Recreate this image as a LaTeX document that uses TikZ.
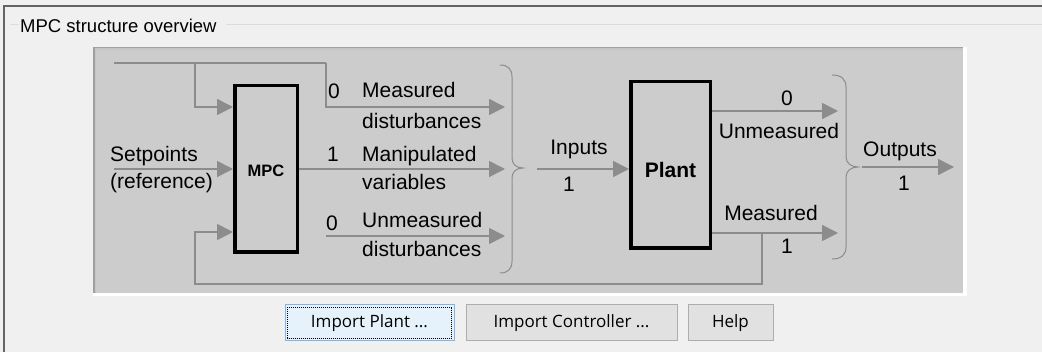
\documentclass[tikz,border=0pt]{standalone}
\usepackage{fontspec}
\setmainfont{Liberation Sans}
\newfontfamily\uifont{Open Sans}
\usetikzlibrary{arrows.meta}

\definecolor{formgray}{HTML}{F0F0F0}
\definecolor{framegray}{HTML}{646464}
\definecolor{groupgray}{HTML}{DCDCDC}
\definecolor{panelgray}{HTML}{CCCCCC}
\definecolor{bevelgray}{HTML}{A0A0A0}
\definecolor{wiregray}{HTML}{8C8C8C}
\definecolor{btnfill}{HTML}{E1E1E1}
\definecolor{btnline}{HTML}{ADADAD}
\definecolor{focusfill}{HTML}{E5F1FB}
\definecolor{focusline}{HTML}{7EB4EA}

\tikzset{
    wire/.style={draw=wiregray, line width=1.6pt},
    sig/.style={wire, -{Triangle[length=16pt,width=16pt]}},
    brace/.style={draw=wiregray, line width=1pt},
    block/.style={draw=black, line width=3.5pt, fill=panelgray, inner sep=0pt},
    lbl/.style={font=\fontsize{21}{21}\selectfont, inner sep=0pt, text=black},
    button/.style={draw=btnline, fill=btnfill, line width=1pt, minimum height=36pt,
        inner sep=0pt, font=\uifont\fontsize{17}{17}\selectfont}
}

\begin{document}
\begin{tikzpicture}[x=1pt,y=-1pt]
    \useasboundingbox (0,0) rectangle (1042,352);

    % Window and group box
    \fill[formgray] (0,0) rectangle (1042,352);
    \draw[framegray, line width=2pt] (4,352) -- (4,6) -- (1042,6);
    \draw[groupgray, line width=1pt] (10,25) -- (19,25);
    \draw[groupgray, line width=1pt] (226,25) -- (1042,25);
    \node[anchor=base west, inner sep=0pt, font=\fontsize{18.5}{18.5}\selectfont] (title) at (20,33) {MPC structure overview};

    % Diagram panel
    \fill[white] (93,47) rectangle (967,296);
    \fill[bevelgray] (93,47) rectangle (963,293);
    \fill[panelgray!85!bevelgray] (94.5,48.5) rectangle (963,293);
    \fill[panelgray] (96,50) rectangle (963,293);

    % Blocks
    \node[block, minimum width=62.5pt, minimum height=166.5pt, text height=16pt,
        font=\bfseries\fontsize{16.5}{16.5}\selectfont] (mpc) at (266,169) {MPC};
    \node[block, minimum width=79.5pt, minimum height=166.5pt, text height=26pt,
        font=\bfseries\fontsize{21}{21}\selectfont] (plant) at (670.5,165) {Plant};

    % Points on the wires
    \coordinate (tl) at (114,63);
    \coordinate (j1) at (195,63);
    \coordinate (j2) at (326,63);
    \coordinate (sp) at (114,169);
    \coordinate (ud) at (326,236);
    \coordinate (b1a) at (505,107);
    \coordinate (b1b) at (505,169);
    \coordinate (b1c) at (505,236);
    \coordinate (inp) at (537,169);
    \coordinate (yu) at (838,111);
    \coordinate (ym) at (838,233);
    \coordinate (fb) at (762,233);
    \coordinate (fbc) at (195,284);
    \coordinate (outs) at (862,167);
    \coordinate (oute) at (954,167);

    % Wires
    \draw[wire] (tl) -- (j2);
    \draw[sig] (j1) |- ([yshift=62pt]mpc.west);
    \draw[sig] (j2) |- (b1a);
    \draw[sig] (sp) -- (mpc.west);
    \draw[sig] (mpc.east) -- (b1b);
    \draw[sig] (ud) -- (b1c);
    \draw[sig] (inp) -- (inp -| plant.west);
    \draw[sig] (yu -| plant.east) -- (yu);
    \draw[sig] (ym -| plant.east) -- (ym);
    \draw[sig] (fb) -- (fb |- fbc) -- (fbc) |- ([yshift=-63pt]mpc.west);
    \draw[sig] (outs) -- (oute);

    % Braces
    \draw[brace] (500,65) .. controls (508,65) and (512,69) .. (512,77) -- (512,158)
        .. controls (512,164) and (516,168) .. (523,168)
        .. controls (516,168) and (512,172) .. (512,178) -- (512,261)
        .. controls (512,269) and (508,273) .. (500,273);
    \draw[brace] (832,75) .. controls (841,75) and (846,79) .. (846,87) -- (846,157)
        .. controls (846,163) and (851,167) .. (858,167)
        .. controls (851,167) and (846,171) .. (846,177) -- (846,247)
        .. controls (846,255) and (841,259) .. (832,259);

    % Labels
    \node[lbl, anchor=base west] (spa) at (110,162) {Setpoints};
    \node[lbl, anchor=base west] (spb) at (110,189) {(reference)};
    \node[lbl, anchor=base] (nmd) at (334,99) {0};
    \node[lbl, anchor=base west] (mda) at (362,98) {Measured};
    \node[lbl, anchor=base west] (mdb) at (362,129) {disturbances};
    \node[lbl, anchor=base] (nmv) at (333,162) {1};
    \node[lbl, anchor=base west] (mva) at (362,162) {Manipulated};
    \node[lbl, anchor=base west] (mvb) at (362,190) {variables};
    \node[lbl, anchor=base] (nud) at (332,231) {0};
    \node[lbl, anchor=base west] (uda) at (362,228) {Unmeasured};
    \node[lbl, anchor=base west] (udb) at (362,257) {disturbances};
    \node[lbl, anchor=base] (inl) at (579,155) {Inputs};
    \node[lbl, anchor=base] (nin) at (569,192) {1};
    \node[lbl, anchor=base] (nuo) at (787,106) {0};
    \node[lbl, anchor=base] (uol) at (779,139) {Unmeasured};
    \node[lbl, anchor=base] (mol) at (771,221) {Measured};
    \node[lbl, anchor=base] (nmo) at (787,254) {1};
    \node[lbl, anchor=base] (outl) at (900,157) {Outputs};
    \node[lbl, anchor=base] (nout) at (904,191) {1};

    % Buttons
    \node[button, draw=focusline, fill=focusfill, minimum width=169pt] (impplant) at (369.5,323) {Import Plant ...};
    \draw[black, line width=0.8pt, dash pattern=on 1pt off 1pt]
        ([shift={(3pt,-3pt)}]impplant.north west) rectangle ([shift={(-3pt,3pt)}]impplant.south east);
    \node[button, minimum width=211pt] (impctrl) at (571.5,323) {Import Controller ...};
    \node[button, minimum width=85pt] (help) at (730.5,323) {Help};
\end{tikzpicture}
\end{document}
